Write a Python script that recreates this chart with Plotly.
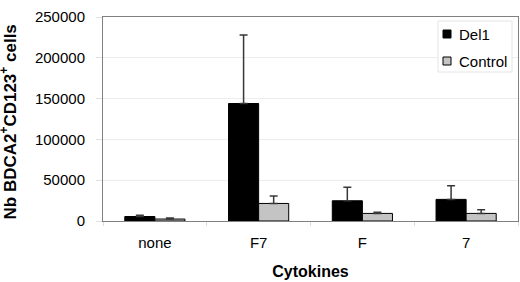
import plotly.graph_objects as go

categories = ["none", "F7", "F", "7"]
del1_values = [5500, 144000, 24800, 26500]
del1_errors = [1500, 84000, 16500, 16600]
control_values = [2400, 21500, 9300, 9300]
control_errors = [1300, 9000, 1500, 4400]
y_ticks = [0, 50000, 100000, 150000, 200000, 250000]
series_names = ["Del1", "Control"]
series_colors = ["black", "#c4c4c4"]

# plot area in pixels: x 103..518, y 17..221
L, R, T, B = 103, 518, 17, 221
W, H = 520, 282
def px(x):
    return (x - L) / (R - L)
def py(y):
    return (B - y) / (B - T)

fig = go.Figure()
for name, vals, errs, col in [
    (series_names[0], del1_values, del1_errors, series_colors[0]),
    (series_names[1], control_values, control_errors, series_colors[1]),
]:
    fig.add_trace(go.Bar(
        x=categories, y=vals, name=name, showlegend=False,
        marker=dict(color=col, line=dict(color="black", width=1)),
        error_y=dict(type="data", array=errs, symmetric=False, arrayminus=[0]*4,
                     color="#383838", thickness=1.5, width=4),
    ))

# legend drawn as shapes + text
shapes = [dict(type="rect", xref="paper", yref="paper",
               x0=px(438), x1=px(512), y0=py(72), y1=py(21),
               line=dict(color="#e4e4e4", width=1), fillcolor="white", layer="above")]
annotations = []
for i, (name, col) in enumerate(zip(series_names, series_colors)):
    cy = 34 + 27 * i
    shapes.append(dict(type="rect", xref="paper", yref="paper",
                       x0=px(443), x1=px(451), y0=py(cy + 4), y1=py(cy - 4),
                       line=dict(color="black", width=1), fillcolor=col, layer="above"))
    annotations.append(dict(text=name, xref="paper", yref="paper",
                            x=px(457), y=py(cy), xanchor="left", yanchor="middle",
                            showarrow=False, font=dict(size=15, color="black")))

annotations.append(dict(
    text="<b>Nb BDCA2<sup>+</sup>CD123<sup>+</sup> cells</b>",
    xref="paper", yref="paper", x=px(8), y=py(222),
    xanchor="center", yanchor="bottom", textangle=-90, showarrow=False,
    font=dict(size=17, color="black"),
))

fig.update_layout(
    width=W, height=H,
    margin=dict(l=L, r=W - R, t=T, b=H - B),
    paper_bgcolor="white", plot_bgcolor="white",
    barmode="group", bargap=0.42, bargroupgap=0,
    font=dict(family="Arial, Liberation Sans, sans-serif", size=15, color="black"),
    showlegend=False,
    xaxis=dict(
        showline=True, linecolor="#808080", linewidth=1, mirror=True,
        ticks="outside", tickson="boundaries", ticklen=4, tickcolor="#dddddd",
        tickfont=dict(size=15), ticklabelstandoff=8,
        title=dict(text="<b>Cytokines</b>", font=dict(size=16), standoff=15),
    ),
    yaxis=dict(
        range=[0, 250000], tickvals=y_ticks, ticktext=[str(v) for v in y_ticks],
        showline=True, linecolor="#808080", linewidth=1, mirror=True,
        showgrid=True, gridcolor="#ededed", gridwidth=1,
        ticks="outside", ticklen=6, tickcolor="#e0e0e0",
        tickfont=dict(size=15), ticklabelstandoff=8,
    ),
    shapes=shapes,
    annotations=annotations,
)

fig.write_html("out.html", config={"displayModeBar": False},
               post_script="document.body.style.margin='0';document.body.style.padding='0';document.body.style.overflow='hidden';")
